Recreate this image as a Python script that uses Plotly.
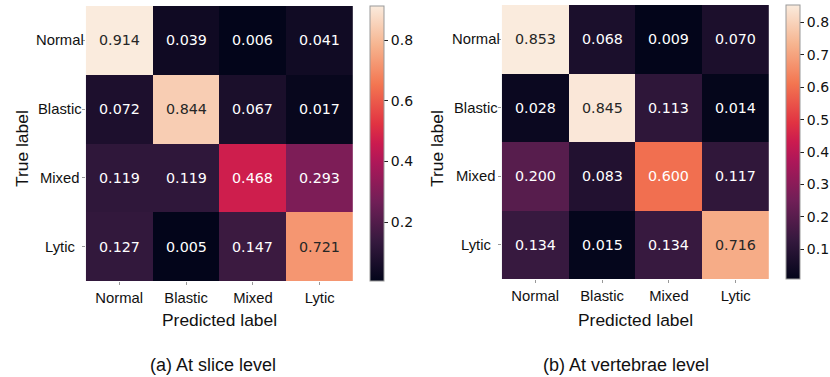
import plotly.graph_objects as go

labels = ["Normal", "Blastic", "Mixed", "Lytic"]
slice_vals = [
    [0.914, 0.039, 0.006, 0.041],
    [0.072, 0.844, 0.067, 0.017],
    [0.119, 0.119, 0.468, 0.293],
    [0.127, 0.005, 0.147, 0.721],
]
vert_vals = [
    [0.853, 0.068, 0.009, 0.070],
    [0.028, 0.845, 0.113, 0.014],
    [0.200, 0.083, 0.600, 0.117],
    [0.134, 0.015, 0.134, 0.716],
]
captions = ["(a) At slice level", "(b) At vertebrae level"]
cbar_dticks = [0.2, 0.1]

rocket = [
    [0.0, "#03051a"], [1/7, "#35193e"], [2/7, "#701f57"], [3/7, "#ad1759"],
    [0.5, "#cb1b4f"], [4/7, "#e13342"], [5/7, "#f37651"], [6/7, "#f6b48f"],
    [1.0, "#faebdd"],
]


def hex2rgb(h):
    h = h.lstrip("#")
    return [int(h[i:i + 2], 16) / 255 for i in (0, 2, 4)]


def color_at(t):
    for (p0, c0), (p1, c1) in zip(rocket[:-1], rocket[1:]):
        if p0 <= t <= p1:
            f = (t - p0) / (p1 - p0) if p1 > p0 else 0
            a, b = hex2rgb(c0), hex2rgb(c1)
            return [a[i] + (b[i] - a[i]) * f for i in range(3)]
    return hex2rgb(rocket[-1][1])


def luminance(rgb):
    lin = [c / 12.92 if c <= 0.03928 else ((c + 0.055) / 1.055) ** 2.4 for c in rgb]
    return 0.2126 * lin[0] + 0.7152 * lin[1] + 0.0722 * lin[2]


W, H = 830, 377
panels = [
    dict(x0=86, x1=354, y0=6, y1=281, cbx=371, ylab=22, cap=214),
    dict(x0=503, x1=771, y0=5, y1=279, cbx=788, ylab=438, cap=628),
]

fig = go.Figure()
annotations = []
NUM_FONT = "DejaVu Sans"
LAB_FONT = "Liberation Sans, Arial"

for k, (vals, pan) in enumerate(zip([slice_vals, vert_vals], panels)):
    zmin = min(min(r) for r in vals)
    zmax = max(max(r) for r in vals)
    xa = "x" if k == 0 else "x2"
    ya = "y" if k == 0 else "y2"
    fig.add_trace(go.Heatmap(
        z=vals, x=labels, y=labels, xaxis=xa, yaxis=ya,
        colorscale=rocket, zmin=zmin, zmax=zmax, hoverinfo="skip",
        colorbar=dict(
            x=pan["cbx"] / W, xanchor="left", xpad=0, ypad=0,
            y=1 - pan["y0"] / H, yanchor="top",
            len=pan["y1"] - pan["y0"], lenmode="pixels",
            thickness=14, thicknessmode="pixels",
            outlinecolor="#999999", outlinewidth=1,
            ticks="outside", ticklen=4, tickcolor="#222",
            tick0=0, dtick=cbar_dticks[k], tickformat=".1f",
            tickfont=dict(family=NUM_FONT, size=14, color="#111"),
        ),
    ))
    suffix = "" if k == 0 else "2"
    fig.update_layout(**{
        "xaxis" + suffix: dict(
            domain=[pan["x0"] / W, pan["x1"] / W], anchor=ya,
            range=[-0.5, 3.5], showgrid=False, zeroline=False,
            ticks="outside", ticklen=3, tickcolor="#999",
            tickfont=dict(family=LAB_FONT, size=14.8, color="#111"),
        ),
        "yaxis" + suffix: dict(
            domain=[1 - pan["y1"] / H, 1 - pan["y0"] / H], anchor=xa,
            range=[3.5, -0.5], showgrid=False, zeroline=False,
            ticks="outside", ticklen=3, tickcolor="#999",
            showticklabels=False,
        ),
    })
    for i, row in enumerate(vals):
        for j, v in enumerate(row):
            t = (v - zmin) / (zmax - zmin)
            col = "#262626" if luminance(color_at(t)) > 0.408 else "white"
            annotations.append(dict(
                x=labels[j], y=labels[i], xref=xa, yref=ya,
                text=f"{v:.3f}", showarrow=False,
                font=dict(family=NUM_FONT, size=14.3, color=col),
            ))
    for i, lab in enumerate(labels):
        annotations.append(dict(
            x=0, xref=xa + " domain", y=lab, yref=ya, xshift=-26,
            xanchor="center", yanchor="middle", text=lab, showarrow=False,
            font=dict(family=LAB_FONT, size=14.8, color="#111"),
        ))
    annotations.append(dict(
        x=0.5, xref=xa + " domain", y=1 - 320 / H, yref="paper",
        text="Predicted label", showarrow=False, xanchor="center", yanchor="middle",
        font=dict(family=LAB_FONT, size=17.4, color="#111"),
    ))
    annotations.append(dict(
        x=pan["ylab"] / W, xref="paper", y=1 - 148 / H, yref="paper",
        text="True label", textangle=-90, showarrow=False,
        xanchor="center", yanchor="middle",
        font=dict(family=LAB_FONT, size=17.4, color="#111"),
    ))
    annotations.append(dict(
        x=pan["cap"] / W, xref="paper", y=1 - 365 / H, yref="paper",
        text=captions[k], showarrow=False, xanchor="center", yanchor="middle",
        font=dict(family=LAB_FONT, size=18, color="#111"),
    ))

fig.update_layout(
    width=W, height=H, margin=dict(l=0, r=0, t=0, b=0),
    paper_bgcolor="white", plot_bgcolor="white",
    annotations=annotations, showlegend=False,
)
fig.write_html(
    "out.html",
    config={"displayModeBar": False},
    post_script="document.body.style.margin='0';document.body.style.overflow='hidden';",
)
